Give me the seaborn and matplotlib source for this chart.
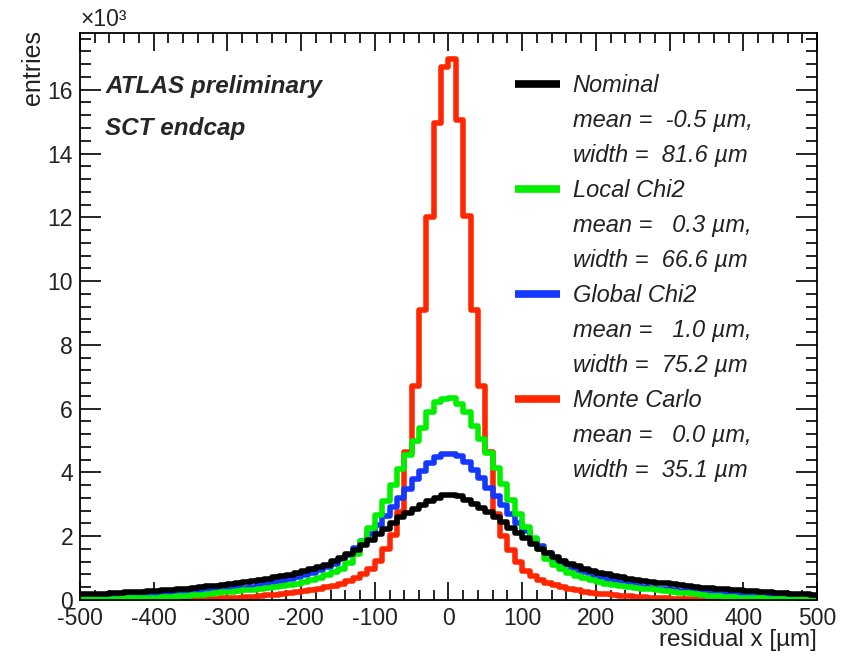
import numpy as np
import pandas as pd
import matplotlib
matplotlib.use("Agg")
import matplotlib.pyplot as plt
import seaborn as sns
from matplotlib.lines import Line2D
from matplotlib.ticker import MultipleLocator, FuncFormatter

# 10 um bins from -500 to 500 um
bin_edges = np.arange(-500, 501, 10)
bin_centers = (bin_edges[:-1] + bin_edges[1:]) / 2

# entries per bin, left edge (-495 um) to right edge (+495 um)
nominal = [
    180, 175, 190, 200, 210, 225, 235, 250, 265, 280,
    295, 310, 325, 340, 355, 375, 400, 425, 450, 475,
    505, 535, 565, 595, 630, 665, 705, 750, 795, 850,
    905, 970, 1035, 1110, 1210, 1320, 1440, 1580, 1730, 1890,
    2060, 2240, 2410, 2590, 2720, 2860, 2980, 3090, 3190, 3280,
    3300, 3250, 3150, 3020, 2890, 2750, 2600, 2430, 2260, 2090,
    1930, 1770, 1610, 1460, 1340, 1230, 1130, 1050, 980, 920,
    860, 810, 760, 715, 670, 635, 600, 570, 545, 520,
    495, 465, 440, 415, 390, 365, 345, 330, 315, 300,
    285, 270, 255, 240, 225, 210, 200, 185, 175, 165,
]
local_chi2 = [
    30, 30, 35, 35, 40, 45, 50, 55, 60, 65,
    75, 85, 95, 110, 125, 145, 165, 190, 215, 240,
    260, 280, 300, 320, 340, 370, 400, 430, 460, 500,
    550, 620, 700, 780, 870, 960, 1150, 1450, 1850, 2250,
    2650, 3100, 3600, 4100, 4550, 5000, 5400, 5900, 6200, 6300,
    6320, 6150, 5880, 5450, 5050, 4600, 4150, 3650, 3150, 2700,
    2300, 1950, 1600, 1300, 1100, 960, 850, 760, 680, 620,
    560, 510, 470, 440, 410, 380, 355, 330, 305, 280,
    255, 230, 205, 180, 160, 140, 120, 105, 90, 75,
    65, 55, 50, 45, 40, 35, 30, 30, 25, 25,
]
global_chi2 = [
    40, 45, 50, 55, 65, 75, 85, 95, 110, 125,
    140, 155, 175, 195, 210, 230, 250, 270, 290, 310,
    330, 360, 390, 420, 460, 500, 550, 600, 650, 710,
    780, 860, 940, 1030, 1140, 1270, 1420, 1620, 1850, 2080,
    2350, 2640, 2920, 3200, 3480, 3780, 4030, 4280, 4480, 4580,
    4570, 4500, 4320, 4070, 3820, 3520, 3250, 2970, 2700, 2420,
    2150, 1900, 1680, 1460, 1290, 1150, 1040, 950, 870, 790,
    720, 660, 605, 550, 500, 460, 420, 385, 355, 330,
    310, 290, 270, 250, 230, 215, 200, 180, 165, 150,
    135, 120, 105, 90, 80, 70, 60, 55, 50, 45,
]
monte_carlo = [
    0, 0, 0, 0, 0, 2, 3, 4, 5, 6,
    8, 10, 12, 15, 20, 25, 30, 35, 40, 50,
    60, 70, 90, 105, 120, 145, 165, 190, 215, 245,
    275, 305, 345, 395, 445, 505, 585, 690, 810, 960,
    1220, 1600, 2050, 2750, 4650, 6700, 9100, 12000, 14950, 16700,
    16950, 15050, 12050, 9100, 6700, 4650, 2700, 2000, 1580, 1180,
    920, 760, 640, 540, 460, 400, 350, 300, 265, 230,
    200, 175, 150, 130, 110, 95, 80, 70, 60, 50,
    40, 35, 30, 25, 20, 15, 12, 10, 8, 6,
    5, 4, 3, 2, 1, 0, 0, 0, 0, 0,
]

samples = ["Nominal", "Local Chi2", "Global Chi2", "Monte Carlo"]
means = [-0.5, 0.3, 1.0, 0.0]
widths = [81.6, 66.6, 75.2, 35.1]
colors = ["#000000", "#00f000", "#1438ff", "#ff2600"]

df = pd.concat(
    [
        pd.DataFrame({"residual": bin_centers, "entries": vals, "sample": name})
        for name, vals in zip(samples, [nominal, local_chi2, global_chi2, monte_carlo])
    ],
    ignore_index=True,
)

sns.set_theme(style="ticks")
plt.rcParams["font.family"] = ["Liberation Sans", "DejaVu Sans"]

fig = plt.figure(figsize=(8.42, 6.57), dpi=100)
ax = fig.add_axes([0.0950, 0.0868, 0.8753, 0.8630])

sns.histplot(
    data=df, x="residual", weights="entries", hue="sample",
    hue_order=samples, palette=colors, binwidth=10, binrange=(-500, 500),
    element="step", fill=False, linewidth=4.0, legend=False, ax=ax,
)

ax.set_xlim(-500, 500)
ax.set_ylim(0, 17780)

ax.xaxis.set_major_locator(MultipleLocator(100))
ax.xaxis.set_minor_locator(MultipleLocator(20))
ax.yaxis.set_major_locator(MultipleLocator(2000))
ax.yaxis.set_minor_locator(MultipleLocator(400))
ax.yaxis.set_major_formatter(FuncFormatter(lambda v, p: f"{v / 1000:g}"))
ax.xaxis.set_major_formatter(FuncFormatter(lambda v, p: f"{v:g}"))

ax.tick_params(which="both", direction="in", top=True, right=True,
               width=1.2, color="black", labelcolor="#222222", labelsize=16.5)
ax.tick_params(axis="x", which="major", length=13, pad=5)
ax.tick_params(axis="x", which="minor", length=7)
ax.tick_params(axis="y", which="major", length=15, pad=5)
ax.tick_params(axis="y", which="minor", length=8)
for sp in ax.spines.values():
    sp.set_linewidth(1.3)
    sp.set_color("black")

ax.set_xlabel("residual x [µm]", fontsize=17.5, loc="right", color="#222222")
ax.set_ylabel("entries", fontsize=18, loc="top", color="#222222")
ax.xaxis.set_label_coords(1.0, -0.052)
ax.yaxis.set_label_coords(-0.048, 1.006)

ax.text(0.0, 1.004, "×10³", transform=ax.transAxes, ha="left", va="bottom",
        fontsize=16.5, color="#222222")

ax.text(0.034, 0.905, "ATLAS preliminary", transform=ax.transAxes,
        fontsize=17.5, fontweight="bold", style="italic", va="center", ha="left")
ax.text(0.034, 0.832, "SCT endcap", transform=ax.transAxes,
        fontsize=17.5, fontweight="bold", style="italic", va="center", ha="left")

# legend: sample name with its line, then mean and width rows without a line
handles, labels = [], []
for name, col, m, w in zip(samples, colors, means, widths):
    handles.append(Line2D([], [], color=col, lw=5.5, solid_capstyle="butt"))
    labels.append(name)
    for txt in (f"mean = {m:5.1f} µm,", f"width = {w:5.1f} µm"):
        handles.append(Line2D([], [], linestyle="none"))
        labels.append(txt)

leg = ax.legend(handles, labels, loc="upper left", bbox_to_anchor=(0.590, 0.928),
                frameon=False, borderpad=0, borderaxespad=0,
                handlelength=1.9, handletextpad=0.55, labelspacing=0.51,
                prop={"style": "italic", "size": 17})
for t in leg.get_texts():
    t.set_color("#222222")

fig.savefig("out.png", dpi=100)
